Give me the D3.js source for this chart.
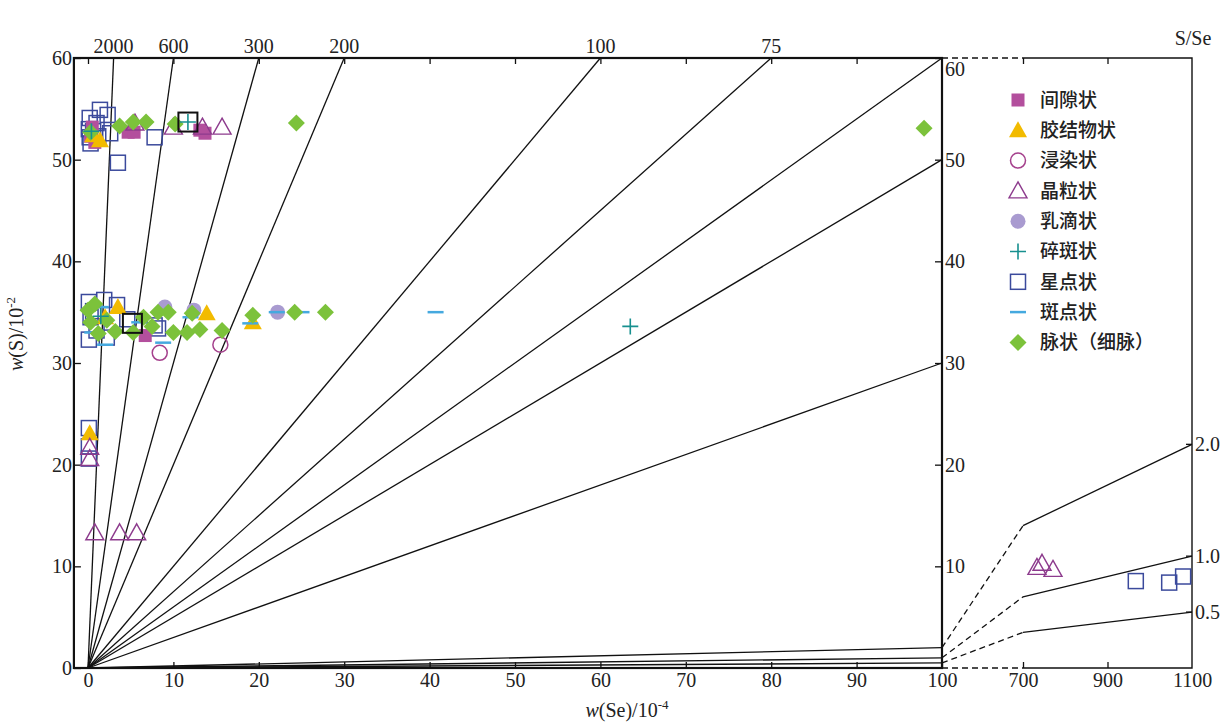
<!DOCTYPE html>
<html>
<head>
<meta charset="utf-8">
<script src="https://cdn.jsdelivr.net/npm/d3@7"></script>
<style>
    body { margin: 0; background: #fff; }
    svg { display: block; }
</style>
</head>
<body>
<svg id="chart" width="1232" height="728"></svg>
<script>
// S/Se reference lines (ratio of w(S)/w(Se) after unit conversion)
const ratioLines = [2000, 600, 300, 200, 100, 75, 60, 50, 30, 2, 1, 0.5];
const topLabels = [2000, 600, 300, 200, 100, 75];
const lowRatios = [2, 1, 0.5];
const lowLabels = ["2.0", "1.0", "0.5"];

const xTicks = [0, 10, 20, 30, 40, 50, 60, 70, 80, 90, 100];
const xTicksRight = [700, 900, 1100];
const yTicks = [0, 10, 20, 30, 40, 50, 60];

// series, [w(Se), w(S)]
const interstitial = [[4.7,52.7],[5.4,52.7],[13.1,52.9],[13.7,52.6],[0.5,53.2],[0.3,52.3],[0.8,51.7],[6.7,32.7]];
const cement = [[1.4,51.9],[0.6,52.4],[3.5,35.5],[2.0,34.5],[13.9,34.9],[19.3,34.0],[0.2,23.1]];
const disseminated = [[8.4,31.0],[15.5,31.8]];
const granular = [[5.5,53.6],[10.0,53.2],[13.4,53.2],[15.7,53.2],[0.2,21.7],[0.2,20.6],
                  [0.8,13.3],[3.7,13.3],[5.7,13.3],[733,9.9],[745,10.3],[771,9.7]];
const emulsion = [[22.2,35.0],[9.0,35.5],[12.4,35.2]];
const fragmented = [[11.7,53.7],[0.4,52.8],[1.5,34.6],[63.5,33.6]];
const sparse = [[0.2,54.1],[1.4,54.9],[2.3,54.4],[0.2,52.2],[2.6,52.6],[7.8,52.2],[3.5,49.7],
                [0.1,53.0],[1.0,53.6],[0.3,51.6],[0.6,52.8],[1.2,52.3],
                [0.1,36.0],[0.1,32.3],[1.9,36.2],[3.4,35.7],[7.8,33.7],[8.2,33.4],[2.2,32.5],
                [0.3,34.5],[1.0,33.2],[4.6,34.3],[0.6,35.1],
                [0.1,23.6],[0.1,21.8],[0.1,20.6],
                [967,8.55],[1046,8.4],[1079,9.0]];
const spot = [[40.7,35.0],[22.1,35.0],[25.0,35.0],[19.0,33.9],[2.0,31.8],[8.8,32.0],
              [0.5,33.0],[1.5,35.5],[12.0,34.5],[6.0,34.0]];
const vein = [[0.3,52.7],[3.7,53.3],[5.3,53.7],[6.8,53.7],[10.2,53.5],[24.4,53.6],[97.9,53.1],
              [0.0,35.2],[0.3,34.0],[1.2,32.9],[3.2,33.1],[5.3,33.0],[8.2,35.0],[9.4,35.0],
              [10.0,33.0],[11.6,33.0],[12.2,34.9],[13.1,33.3],[15.7,33.2],[19.3,34.7],
              [24.2,35.0],[27.8,35.0],[0.8,35.8],[2.2,34.2],[6.5,34.5],[7.5,33.6]];
const boxed = [[11.7,53.7],[5.2,33.9]];

const legendNames = ["间隙状", "胶结物状", "浸染状", "晶粒状", "乳滴状", "碎斑状", "星点状", "斑点状", "脉状（细脉）"];

const SERIF = "'Liberation Serif', 'DejaVu Serif', serif";
const CJK = "'Noto Sans CJK SC', sans-serif";

const svg = d3.select("#chart");

const xLeft = d3.scaleLinear().domain([0, 100]).range([88, 942]);
const xRight = d3.scaleLinear().domain([700, 1100]).range([1023, 1192]);
const y = d3.scaleLinear().domain([0, 60]).range([668, 58]);
const px = v => v > 100 ? xRight(v) : xLeft(v);

const x0 = xLeft(-1.65), x1 = xLeft(100), x2 = xRight(1100);
const yTop = y(60), yBot = y(0);

function num(sel)
{
    return sel.attr("font-family", SERIF).attr("font-size", 20).attr("fill", "#222");
}

// styles for each series
const styles = [
    { data: sparse,       type: "square",   stroke: "#3b4a9c", fill: "none" },
    { data: interstitial, type: "square",   stroke: "none",    fill: "#b34f9d" },
    { data: cement,       type: "triangle", stroke: "none",    fill: "#f2bb00" },
    { data: granular,     type: "triangle", stroke: "#8d3b8d", fill: "none" },
    { data: disseminated, type: "circle",   stroke: "#a5418d", fill: "none" },
    { data: emulsion,     type: "circle",   stroke: "none",    fill: "#a99bd0" },
    { data: spot,         type: "dash",     stroke: "#45a9df", fill: "none" },
    { data: vein,         type: "diamond",  stroke: "none",    fill: "#7cc23b" },
    { data: boxed,        type: "box",      stroke: "#111",    fill: "none" },
    { data: fragmented,   type: "plus",     stroke: "#17908f", fill: "none" }
];
const legendOrder = [1, 2, 4, 3, 5, 9, 0, 6, 7];

function marker(sel, s)
{
    if (s.type == "square") {
        const h = s.fill == "none" ? 7.5 : 6.5;
        sel.append("rect").attr("x", -h).attr("y", -h).attr("width", 2 * h).attr("height", 2 * h)
            .attr("fill", s.fill).attr("stroke", s.stroke).attr("stroke-width", 1.5);
    }
    else if (s.type == "box") {
        sel.append("rect").attr("x", -9.5).attr("y", -9.5).attr("width", 19).attr("height", 19)
            .attr("fill", "none").attr("stroke", s.stroke).attr("stroke-width", 2);
    }
    else if (s.type == "triangle") {
        sel.append("path").attr("d", "M0,-9L9,7L-9,7Z")
            .attr("fill", s.fill).attr("stroke", s.stroke).attr("stroke-width", 1.4);
    }
    else if (s.type == "circle") {
        sel.append("circle").attr("r", 7.5)
            .attr("fill", s.fill).attr("stroke", s.stroke).attr("stroke-width", 1.5);
    }
    else if (s.type == "diamond") {
        sel.append("path").attr("d", "M0,-8.5L8.5,0L0,8.5L-8.5,0Z").attr("fill", s.fill);
    }
    else if (s.type == "dash") {
        sel.append("line").attr("x1", -8).attr("x2", 8)
            .attr("stroke", s.stroke).attr("stroke-width", 2.5);
    }
    else if (s.type == "plus") {
        sel.append("path").attr("d", "M-8,0H8M0,-8V8")
            .attr("stroke", s.stroke).attr("stroke-width", 1.6);
    }
}

// ratio lines
const lineG = svg.append("g").attr("stroke", "#111").attr("stroke-width", 1.3).attr("fill", "none");
ratioLines.forEach(r => {
    const xe = Math.min(100, 6000 / r);
    lineG.append("line")
        .attr("x1", xLeft(0)).attr("y1", y(0))
        .attr("x2", xLeft(xe)).attr("y2", y(r * xe / 100));
});
lowRatios.forEach(r => {
    lineG.append("line")
        .attr("x1", xLeft(100)).attr("y1", y(r))
        .attr("x2", xRight(700)).attr("y2", y(r * 7))
        .attr("stroke-dasharray", "6,4");
    lineG.append("line")
        .attr("x1", xRight(700)).attr("y1", y(r * 7))
        .attr("x2", xRight(1100)).attr("y2", y(r * 11));
});

// frames
const frame = svg.append("g").attr("fill", "none").attr("stroke", "#111");
frame.append("rect").attr("x", x0).attr("y", yTop).attr("width", x1 - x0).attr("height", yBot - yTop)
    .attr("stroke-width", 2.2);
frame.append("line").attr("x1", x1).attr("x2", xRight(700)).attr("y1", yTop).attr("y2", yTop)
    .attr("stroke-dasharray", "6,4").attr("stroke-width", 1.4);
frame.append("line").attr("x1", x1).attr("x2", xRight(700)).attr("y1", yBot).attr("y2", yBot)
    .attr("stroke-dasharray", "6,4").attr("stroke-width", 1.4);
frame.append("path")
    .attr("d", `M${xRight(700)},${yTop}H${x2}V${yBot}H${xRight(700)}`)
    .attr("stroke-width", 1.4);

// axes
function styleAxis(g, labels)
{
    g.attr("font-family", SERIF).attr("font-size", 20);
    g.select(".domain").remove();
    g.selectAll(".tick line").attr("stroke", "#111").attr("stroke-width", 1.3);
    g.selectAll(".tick text").call(num);
    if (!labels) g.selectAll(".tick text").remove();
}

svg.append("g").attr("transform", `translate(0,${yBot})`)
    .call(d3.axisBottom(xLeft).tickValues(xTicks).tickSizeInner(-6).tickSizeOuter(0).tickPadding(5))
    .call(g => styleAxis(g, true));
svg.append("g").attr("transform", `translate(0,${yBot})`)
    .call(d3.axisBottom(xRight).tickValues(xTicksRight).tickFormat(d3.format("d"))
        .tickSizeInner(-6).tickSizeOuter(0).tickPadding(5))
    .call(g => styleAxis(g, true))
    .call(g => g.selectAll(".tick line").filter(d => d == 1100).remove());
svg.append("g").attr("transform", `translate(0,${yTop})`)
    .call(d3.axisTop(xLeft).tickValues(xTicks.slice(0, 10)).tickSizeInner(-6).tickSizeOuter(0))
    .call(g => styleAxis(g, false));
svg.append("g").attr("transform", `translate(0,${yTop})`)
    .call(d3.axisTop(xRight).tickValues([700, 900]).tickSizeInner(-6).tickSizeOuter(0))
    .call(g => styleAxis(g, false));
svg.append("g").attr("transform", `translate(${x0},0)`)
    .call(d3.axisLeft(y).tickValues(yTicks).tickSizeInner(-7).tickSizeOuter(0).tickPadding(2))
    .call(g => styleAxis(g, true));
svg.append("g").attr("transform", `translate(${x1},0)`)
    .call(d3.axisRight(y).tickValues(yTicks.slice(1)).tickSizeInner(-7).tickSizeOuter(0).tickPadding(3))
    .call(g => styleAxis(g, true))
    .call(g => g.selectAll(".tick text").filter(d => d == 60).attr("dy", "0.85em"));

// right panel ratio labels
const lowG = svg.append("g");
lowRatios.forEach((r, i) => {
    lowG.append("line").attr("x1", x2 - 6).attr("x2", x2)
        .attr("y1", y(r * 11)).attr("y2", y(r * 11)).attr("stroke", "#111").attr("stroke-width", 1.3);
    lowG.append("text").call(num).attr("x", x2 + 3).attr("y", y(r * 11))
        .attr("dy", "0.35em").text(lowLabels[i]);
});

// top ratio labels
svg.append("g").selectAll("text").data(topLabels).join("text")
    .call(num).attr("text-anchor", "middle")
    .attr("x", r => xLeft(6000 / r)).attr("y", yTop - 5)
    .text(r => r);

svg.append("text").call(num).attr("text-anchor", "middle")
    .attr("x", 1193).attr("y", 45).text("S/Se");

// axis titles
const xt = svg.append("text").call(num).attr("text-anchor", "middle")
    .attr("x", 627).attr("y", 717);
xt.append("tspan").attr("font-style", "italic").text("w");
xt.append("tspan").text("(Se)/10");
xt.append("tspan").attr("font-size", 13).attr("dy", "-8").text("-4");

const yt = svg.append("text").call(num).attr("text-anchor", "middle")
    .attr("transform", "translate(23,334) rotate(-90)");
yt.append("tspan").attr("font-style", "italic").text("w");
yt.append("tspan").text("(S)/10");
yt.append("tspan").attr("font-size", 13).attr("dy", "-8").text("-2");

// points
const ptsG = svg.append("g");
styles.forEach(s => {
    s.data.forEach(d => {
        const g = ptsG.append("g").attr("transform", `translate(${px(d[0])},${y(d[1])})`);
        marker(g, s);
    });
});

// legend
const legG = svg.append("g");
legendOrder.forEach((si, i) => {
    const yy = 100 + i * 30.3;
    marker(legG.append("g").attr("transform", `translate(1018,${yy})`), styles[si]);
    legG.append("text").attr("font-family", CJK).attr("font-size", 19).attr("font-weight", 500)
        .attr("fill", "#222")
        .attr("x", 1040).attr("y", yy).attr("dy", "0.36em")
        .text(legendNames[i]);
});
</script>
</body>
</html>
